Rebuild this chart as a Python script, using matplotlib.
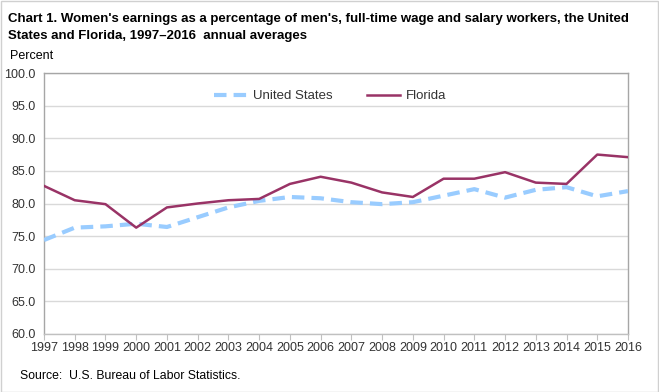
import matplotlib
matplotlib.use("Agg")
import matplotlib.pyplot as plt
from matplotlib.lines import Line2D
from matplotlib.patches import Rectangle

years = list(range(1997, 2017))
us = [74.4, 76.3, 76.5, 76.9, 76.4, 77.9, 79.4, 80.4, 81.0, 80.8,
      80.2, 79.9, 80.2, 81.2, 82.2, 80.9, 82.1, 82.5, 81.1, 81.9]
florida = [82.7, 80.5, 79.9, 76.3, 79.4, 80.0, 80.5, 80.7, 83.0, 84.1,
           83.2, 81.7, 81.0, 83.8, 83.8, 84.8, 83.2, 83.0, 87.5, 87.1]
yticks = [60, 65, 70, 75, 80, 85, 90, 95, 100]

plt.rcParams['font.family'] = ['Liberation Sans', 'DejaVu Sans']

W, H = 659, 392
fig = plt.figure(figsize=(W / 100, H / 100), dpi=100)
fig.patches.append(Rectangle((0.5 / W, 0.5 / H), 1 - 1.5 / W, 1 - 1.5 / H,
                             transform=fig.transFigure, fill=False,
                             edgecolor='#d0d0d0', linewidth=1))

L, R, T, B = 44, 628, 73, 334
ax = fig.add_axes([L / W, 1 - B / H, (R - L) / W, (B - T) / H])
ax.plot(years, us, color='#99ccff', linewidth=3, linestyle=(0, (3, 1.7)),
        label='United States', zorder=3)
ax.plot(years, florida, color='#993366', linewidth=1.8, label='Florida', zorder=4)

ax.set_xlim(1997, 2016)
ax.set_ylim(60, 100)
ax.set_yticks(yticks)
ax.set_yticklabels([f"{v:.1f}" for v in yticks], fontsize=9, color='#333333')
ax.set_xticks(years)
ax.set_xticklabels([str(y) for y in years], fontsize=9, color='#333333')
ax.tick_params(axis='y', length=0, pad=6)
ax.tick_params(axis='x', length=4, color='#c0c0c0', pad=2)
ax.grid(axis='y', color='#d9d9d9', linewidth=1)
ax.set_axisbelow(True)
for s in ax.spines.values():
    s.set_color('#a6a6a6')
    s.set_linewidth(1)
ax.spines['bottom'].set_color('#c0c0c0')

handles = [Line2D([0], [0], color='#99ccff', linewidth=3, linestyle=(0, (3, 1.7))),
           Line2D([0], [0], color='#993366', linewidth=1.8)]
leg = ax.legend(handles, ['United States', 'Florida'], loc='upper center',
                bbox_to_anchor=(0.49, 0.98), ncol=2, frameon=False, fontsize=9.5,
                handlelength=2.5, columnspacing=2.6, handletextpad=0.45)
for t in leg.get_texts():
    t.set_color('#333333')

fig.text(8 / W, 1 - 19 / H, "Chart 1. Women's earnings as a percentage of men's, full-time wage and salary workers, the United",
         fontsize=9.5, fontweight='bold', va='center', ha='left')
fig.text(8 / W, 1 - 36 / H, "States and Florida, 1997\u20132016  annual averages",
         fontsize=9.5, fontweight='bold', va='center', ha='left')
fig.text(10 / W, 1 - 56 / H, "Percent", fontsize=9, va='center', ha='left')
fig.text(20 / W, 1 - 376 / H, "Source:  U.S. Bureau of Labor Statistics.", fontsize=8.8,
         va='center', ha='left')

fig.savefig('out.png', dpi=100)
